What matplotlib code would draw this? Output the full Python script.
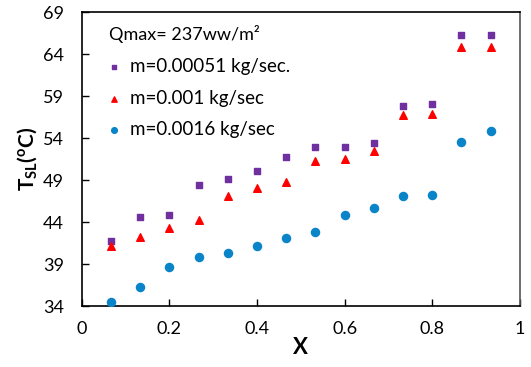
import matplotlib
matplotlib.use('Agg')
import matplotlib.pyplot as plt

# x values (quality) and surface temperatures for three mass flow rates
x = [0.0667, 0.1333, 0.2, 0.2667, 0.3333, 0.4, 0.4667,
     0.5333, 0.6, 0.6667, 0.7333, 0.8, 0.8667, 0.9333]
t_m00051 = [41.8, 44.6, 44.9, 48.4, 49.1, 50.1, 51.7,
            52.9, 52.9, 53.4, 57.8, 58.1, 66.3, 66.3]
t_m0001 = [41.1, 42.2, 43.3, 44.2, 47.1, 48.1, 48.8,
           51.3, 51.5, 52.5, 56.7, 56.9, 64.8, 64.9]
t_m0016 = [34.5, 36.3, 38.6, 39.9, 40.3, 41.1, 42.1,
           42.8, 44.8, 45.7, 47.1, 47.2, 53.5, 54.8]

labels = ['m=0.00051 kg/sec.', 'm=0.001 kg/sec', 'm=0.0016 kg/sec']
title = 'Qmax= 237ww/m²'

plt.rcParams['font.family'] = ['Lato', 'DejaVu Sans']
plt.rcParams['mathtext.fontset'] = 'custom'
plt.rcParams['mathtext.rm'] = 'Lato'
plt.rcParams['mathtext.bf'] = 'Lato:bold'

fig = plt.figure(figsize=(5.31, 3.67), dpi=100)
ax = fig.add_axes([0.154, 0.166, 0.825, 0.801])

ax.scatter(x, t_m00051, marker='s', s=22, color='#7030A0', label=labels[0], zorder=3)
ax.scatter(x, t_m0001, marker='^', s=30, color='#FF0000', label=labels[1], zorder=3)
ax.scatter(x, t_m0016, marker='o', s=34, color='#0A84C8', label=labels[2], zorder=3)

ax.set_xlim(0, 1)
ax.set_ylim(34, 69)
ax.set_xticks([0, 0.2, 0.4, 0.6, 0.8, 1])
ax.set_xticklabels(['0', '0.2', '0.4', '0.6', '0.8', '1'])
ax.set_yticks([34, 39, 44, 49, 54, 59, 64, 69])
ax.tick_params(direction='in', length=5, width=1, labelsize=13, pad=11)
ax.tick_params(axis='y', pad=13)
for s in ax.spines.values():
    s.set_linewidth(1.2)
ax.spines['right'].set_color('#555555')

ax.set_xlabel('X', fontsize=16, fontweight='bold', labelpad=0)
ax.set_ylabel(r'$\mathbf{T}_{\mathbf{SL}}\mathbf{(^oC)}$', fontsize=15, labelpad=2)

leg = ax.legend(title=title, loc='upper left', bbox_to_anchor=(0.045, 0.98),
                frameon=False, fontsize=13.5, title_fontsize=13,
                handlelength=0.5, handletextpad=0.6, labelspacing=0.78,
                alignment='left', borderaxespad=0, markerscale=0.7)

fig.savefig('out.png', dpi=100)
